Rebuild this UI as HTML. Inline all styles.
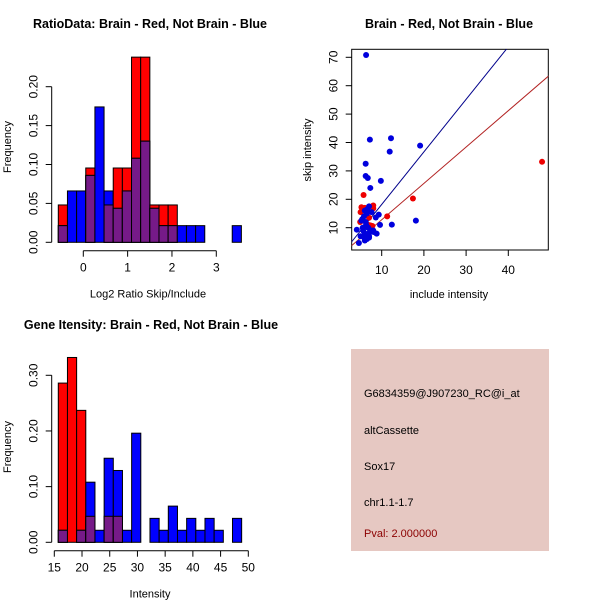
<!DOCTYPE html>
<html><head><meta charset="utf-8"><style>
body{margin:0;background:#fff}
svg{display:block;font-family:"Liberation Sans",sans-serif}
</style></head><body>
<svg id="c" width="600" height="600" viewBox="0 0 600 600" xmlns="http://www.w3.org/2000/svg">
<rect width="600" height="600" fill="#fff"/>
<text x="150" y="28" font-size="12.5" font-weight="bold" text-anchor="middle">RatioData: Brain - Red, Not Brain - Blue</text>
<text x="449" y="28" font-size="12.5" font-weight="bold" text-anchor="middle">Brain - Red, Not Brain - Blue</text>
<text x="151" y="329" font-size="12.5" font-weight="bold" text-anchor="middle">Gene Itensity: Brain - Red, Not Brain - Blue</text>
<g id="h1"></g>
<g id="sc"></g>
<g id="h2"></g>
<g>
<rect x="351" y="349" width="198" height="202" fill="#e6c8c2"/>
<text x="364" y="397" font-size="11">G6834359@J907230_RC@i_at</text>
<text x="364" y="434" font-size="11">altCassette</text>
<text x="364" y="470" font-size="11">Sox17</text>
<text x="364" y="506" font-size="11">chr1.1-1.7</text>
<text x="364" y="537" font-size="11" fill="#8b0000">Pval: 2.000000</text>
</g>
</svg>
<script>
const ratioRed=[0.048,0,0,0.0955,0,0.048,0.0955,0.0955,0.238,0.238,0.048,0.048,0.048,0,0,0,0,0,0,0];
const ratioBlue=[0.0214,0.066,0.066,0.086,0.174,0.066,0.0437,0.066,0.108,0.13,0.0437,0.0214,0.0214,0.0214,0.0214,0.0214,0,0,0,0.0214];
const ratioBreakStart=-0.564, ratioBreakWidth=0.2065;
const ratioXTicks=[0,1,2,3];
const ratioYTicks=["0.00","0.05","0.10","0.15","0.20"];
const intRed=[0.286,0.332,0.237,0.0467,0,0.0467,0.0467,0,0,0,0,0,0,0,0,0,0,0,0,0];
const intBlue=[0.0216,0,0.0216,0.108,0.0216,0.151,0.129,0.0216,0.196,0,0.043,0.0216,0.065,0.0216,0.043,0.0216,0.043,0.0216,0,0.043];
const intBreakStart=15.72, intBreakWidth=1.654;
const intXTicks=[15,20,25,30,35,40,45,50];
const intYTicks=["0.00","0.10","0.20","0.30"];
const redX=[48,17.4,11.3,5.7,5.2,5,8,8,4.9,7,7.3,7.8,6.5,6,6.8];
const redY=[33.2,20.3,14,21.5,17.2,15.5,17.8,16.8,12,13.5,10.8,10.6,15,17,11];
const blueX=[6.3,7.2,12.2,19.1,11.9,6.2,6.2,6.7,7.3,9.8,18.1,12.4,9.6,9.3,8.6,8.8,4.6,4.1,5.2,5.5,6,6.5,7,7.5,6,6.5,7,5.8,6.2,5,6,7,8,5.6,6.8,7.6,5.4,6.3,7.2,8.1,6.6,5.9];
const blueY=[70.8,41,41.5,38.9,36.8,32.5,28.2,27.5,24,26.5,12.5,11.1,11,14.6,13.6,7.9,4.6,9.3,12.5,10,8,6,7,9,16,15,17.5,14,12,7,5.5,6.5,9,9,10,15.5,13,11,8.5,8.5,16.5,6.5];
const scXTicks=[10,20,30,40];
const scYTicks=[10,20,30,40,50,60,70];
const blueLine=[1.85,-0.3], redLine=[1.28,0];

const NS="http://www.w3.org/2000/svg";
function mk(p,t,a,txt){const e=document.createElementNS(NS,t);for(const k in a)e.setAttribute(k,a[k]);if(txt!=null)e.textContent=txt;p.appendChild(e);return e;}

function hist(g,red,blue,b0,bw,xs,ys,ysVal,opt){
  const X=v=>opt.x0+(v-opt.xv0)*opt.xs, Y=v=>opt.y0-v*opt.ys;
  for(let i=0;i<red.length;i++){
    const l=X(b0+i*bw), r=X(b0+(i+1)*bw), w=r-l;
    const R=red[i],B=blue[i];
    if(R>0){const e=mk(g,'rect',{x:l,y:Y(R),width:w,height:Y(0)-Y(R),fill:'#ff0000',stroke:'#000','stroke-width':1});
      }
    if(B>0){const e=mk(g,'rect',{x:l,y:Y(B),width:w,height:Y(0)-Y(B),fill:'#0000ff',stroke:'#000','stroke-width':1});
      }
    if(R>0&&B>0){const m=Math.min(R,B);const e=mk(g,'rect',{x:l,y:Y(m),width:w,height:Y(0)-Y(m),fill:'#761a88',stroke:'#000','stroke-width':1});
      }
  }
  const ya=mk(g,'g',{});
  mk(ya,'line',{x1:opt.ax,x2:opt.ax,y1:Y(0),y2:Y(ysVal[ysVal.length-1]),stroke:'#000'});
  ys.forEach((t,i)=>{const y=Y(ysVal[i]);mk(ya,'line',{x1:opt.ax-6,x2:opt.ax,y1:y,y2:y,stroke:'#000'});
    mk(ya,'text',{x:0,y:0,'font-size':12,'text-anchor':'middle',transform:`translate(${opt.ax-14},${y}) rotate(-90)`},t);});
  const xa=mk(g,'g',{});
  mk(xa,'line',{x1:X(xs[0]),x2:X(xs[xs.length-1]),y1:opt.ay,y2:opt.ay,stroke:'#000'});
  xs.forEach(t=>{const x=X(t);mk(xa,'line',{x1:x,x2:x,y1:opt.ay,y2:opt.ay+6,stroke:'#000'});
    mk(xa,'text',{x:x,y:opt.ay+21,'font-size':12,'text-anchor':'middle'},String(t));});
  const xl=mk(g,'text',{x:opt.xlx,y:opt.ay+47,'font-size':11,'text-anchor':'middle'},opt.xl);
  
  const yl=mk(g,'text',{x:0,y:0,'font-size':11,'text-anchor':'middle',transform:`translate(11,${opt.ylc}) rotate(-90)`},'Frequency');
  
}
hist(document.getElementById('h1'),ratioRed,ratioBlue,ratioBreakStart,ratioBreakWidth,ratioXTicks,ratioYTicks,ratioYTicks.map(Number),
 {x0:83.3,xv0:0,xs:44.33,y0:242.3,ys:778,ax:51.7,ay:250.7,xl:'Log2 Ratio Skip/Include',xlx:148,ylc:147});
hist(document.getElementById('h2'),intRed,intBlue,intBreakStart,intBreakWidth,intXTicks,intYTicks,intYTicks.map(Number),
 {x0:54.3,xv0:15,xs:5.543,y0:542.3,ys:556.7,ax:51.7,ay:550.7,xl:'Intensity',xlx:150,ylc:447});

(function(){
  const g=document.getElementById('sc');
  const X=v=>339.5+v*4.22, Y=v=>256.1-v*2.84;
  mk(g,'defs',{}).innerHTML='<clipPath id="cp"><rect x="351.7" y="49.3" width="196.6" height="200.7"/></clipPath>';
  const box=mk(g,'rect',{x:351.7,y:49.3,width:196.6,height:200.7,fill:'none',stroke:'#000'});
  
  const lg=mk(g,'g',{'clip-path':'url(#cp)'});
  [[blueLine,'#00008b','blue-fit-line'],[redLine,'#b22222','red-fit-line']].forEach(([c,col,n])=>{
    const e=mk(lg,'line',{x1:X(0),y1:Y(c[1]),x2:X(60),y2:Y(c[0]*60+c[1]),stroke:col});
    });
  redX.forEach((v,i)=>{const e=mk(g,'circle',{cx:X(v),cy:Y(redY[i]),r:3,fill:'#ee0000'});
    });
  blueX.forEach((v,i)=>{const e=mk(g,'circle',{cx:X(v),cy:Y(blueY[i]),r:3,fill:'#0000dd'});
    });
  const xa=mk(g,'g',{});
  scXTicks.forEach(t=>{const x=X(t);mk(xa,'line',{x1:x,x2:x,y1:250,y2:256,stroke:'#000'});
    mk(xa,'text',{x:x,y:274,'font-size':12,'text-anchor':'middle'},String(t));});
  const ya=mk(g,'g',{});
  scYTicks.forEach(t=>{const y=Y(t);mk(ya,'line',{x1:345.7,x2:351.7,y1:y,y2:y,stroke:'#000'});
    mk(ya,'text',{x:0,y:0,'font-size':12,'text-anchor':'middle',transform:`translate(${337.7},${y}) rotate(-90)`},String(t));});
  const xl=mk(g,'text',{x:449,y:298,'font-size':11,'text-anchor':'middle'},'include intensity');
  
  const yl=mk(g,'text',{x:0,y:0,'font-size':11,'text-anchor':'middle',transform:'translate(311,150) rotate(-90)'},'skip intensity');
  
})();
</script>
</body></html>
